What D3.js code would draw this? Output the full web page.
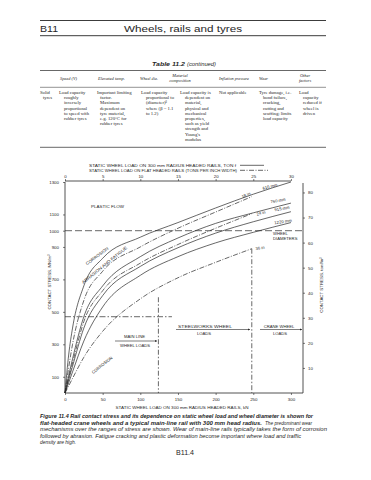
<!DOCTYPE html>
<html><head><meta charset="utf-8">
<script src="https://cdn.jsdelivr.net/npm/d3@7"></script>
<style>body{margin:0;background:#fff}svg{display:block}</style>
</head><body>
<svg id="c" width="371" height="480"></svg>
<script>
// ---------- data ----------
const loadKN = [0, 5, 10, 25, 50, 100, 150, 200, 250, 300];
const s610  = [0, 240, 400, 660, 830, 960, 1050, 1140, 1225, 1300];
const s760  = [0, 110, 210, 470, 660, 840, 955, 1045, 1110, 1170];
const s915  = [0, 85, 165, 400, 600, 780, 895, 985, 1055, 1117];
const s1220 = [0, 65, 130, 320, 530, 725, 840, 925, 990, 1050];
const flatLoad = [0, 5, 10, 25, 50, 100, 150, 200, 248];
const f18 = [0, 160, 300, 570, 750, 900, 1015, 1115, 1210];
const f24 = [0, 95, 185, 440, 630, 800, 915, 1015, 1105];
const f36 = [0, 45, 90, 220, 380, 580, 710, 805, 889];
const solidLabels = ["610 mm", "760 mm", "915 mm", "1220 mm"];
const flatLabels = ["18 in", "24 in", "36 in"];
const leftTicks = [1300, 1100, 1000, 900, 700, 500, 300, 100];
const rightTicks = [80, 70, 60, 50, 40, 30, 20, 10];
const bottomTicks = [0, 50, 100, 150, 200, 250, 300];
const topTicks = [0, 5, 10, 15, 20, 25, 30];
const plasticLimit = 1000;      // MN/m2
const mainLineStress = 470;     // MN/m2
const mainLineLoad = 124;       // kN
const mainLineTop = 590;
const steelworksLoad = 248;     // kN

// ---------- setup ----------
const svg = d3.select("#c");
const ink = "#262626";
const sans = "'Liberation Sans', Arial, sans-serif";
const serif = "'Liberation Serif', 'Times New Roman', serif";

function txt(g, s, xx, yy, o = {}) {
  const t = g.append("text").attr("x", xx).attr("y", yy).text(s)
    .attr("font-family", o.family || sans).attr("font-size", o.size || 4.6)
    .attr("fill", ink).attr("dominant-baseline", "central")
    .attr("text-anchor", o.anchor || "start");
  if (o.weight) t.attr("font-weight", o.weight);
  if (o.style) t.attr("font-style", o.style);
  if (o.len) t.attr("textLength", o.len).attr("lengthAdjust", "spacingAndGlyphs");
  if (o.rot !== undefined) t.attr("transform", `rotate(${o.rot},${xx},${yy})`);
  return t;
}
function hline(x1, x2, yy, w = 0.8, dash = null) {
  const l = svg.append("line").attr("x1", x1).attr("x2", x2).attr("y1", yy).attr("y2", yy)
    .attr("stroke", ink).attr("stroke-width", w);
  if (dash) l.attr("stroke-dasharray", dash);
  return l;
}

// ---------- page header ----------
hline(40, 326, 20.5, 0.9);
hline(40, 326, 35.7, 0.9);
txt(svg, "B11", 40, 29, {size: 8.6, len: 18});
txt(svg, "Wheels, rails and tyres", 124, 29, {size: 8.6, len: 118});

// ---------- table ----------
txt(svg, "Table 11.2", 152, 63.5, {size: 5.6, weight: "bold", style: "italic", len: 33});
txt(svg, "(continued)", 187, 63.5, {size: 5.6, style: "italic", len: 29});
hline(40, 326, 70.5, 0.7);
hline(40, 326, 87.3, 0.5);
hline(40, 326, 147.3, 0.7);
const hd = {family: serif, size: 4.4, style: "italic"};
txt(svg, "Speed (V)", 60, 78, {...hd, len: 17});
txt(svg, "Elevated temp.", 98, 78, {...hd, len: 27});
txt(svg, "Wheel dia.", 140, 78, {...hd, len: 18});
txt(svg, "Material", 180, 75, {...hd, anchor: "middle"});
txt(svg, "composition", 180, 80.5, {...hd, anchor: "middle"});
txt(svg, "Inflation pressure", 219, 78, {...hd, len: 30});
txt(svg, "Wear", 259, 78, {...hd, len: 9});
txt(svg, "Other", 305, 75, {...hd, anchor: "middle"});
txt(svg, "factors", 305, 80.5, {...hd, anchor: "middle"});
const body = {family: serif, size: 4.7};
function column(lines, x0, ind) {
  lines.forEach((s, i) => txt(svg, s, i === 0 ? x0 : x0 + ind, 92.5 + i * 5.2, body));
}
column(["Solid", "tyres"], 40, 3);
column(["Load capacity", "roughly", "inversely", "proportional", "to speed with", "rubber tyres"], 59, 5);
column(["Important limiting", "factor.", "Maximum", "dependent on", "tyre material,", "e.g. 120°C for", "rubber tyres"], 97, 3);
column(["Load capacity", "proportional to", "(diameter)\u1D5D", "where (\u03B2 = 1.1", "to 1.2)"], 141, 5);
column(["Load capacity is", "dependent on", "material,", "physical and", "mechanical", "properties,", "such as yield", "strength and", "Young's", "modulus"], 180, 5);
column(["Not applicable"], 219, 0);
column(["Tyre damage, i.e.", "bond failure,", "cracking,", "cutting and", "scuffing; limits", "load capacity"], 259, 4);
column(["Load", "capacity", "reduced if", "wheel is", "driven"], 299, 4);

// ---------- scales ----------
const x = d3.scaleLinear().domain([0, 316]).range([65, 303]);
const y = d3.scaleLinear().domain([0, 1300]).range([393, 182]);
const yR = d3.scaleLinear().domain([0, 1300 / 15.444]).range([393, 182]);
const xT = d3.scaleLinear().domain([0, 31.6]).range([65, 303]);

// ---------- legend ----------
const lg = {size: 4.3};
txt(svg, "STATIC WHEEL LOAD ON 300 mm RADIUS HEADED RAILS, TON f", 89, 165.3, {...lg, len: 147});
txt(svg, "STATIC WHEEL LOAD ON FLAT HEADED RAILS (TONS PER INCH WIDTH)", 89, 170.3, {...lg, len: 148});
hline(240, 264, 165.3, 0.7);
hline(240, 268, 170.3, 0.7, "5,1.5,1,1.5");

// ---------- axes ----------
const fmt = d3.format("d");
function styleAxis(g) {
  g.select(".domain").remove();
  g.selectAll("line").attr("stroke", ink).attr("stroke-width", 0.6);
  g.selectAll("text").attr("font-family", sans).attr("font-size", 4.4).attr("fill", ink);
}
svg.append("g").attr("transform", "translate(0,393)")
  .call(d3.axisBottom(x).tickValues(bottomTicks).tickFormat(fmt).tickSize(2).tickPadding(3)).call(styleAxis);
svg.append("g").attr("transform", "translate(0,181)")
  .call(d3.axisTop(xT).tickValues(topTicks).tickFormat(fmt).tickSize(2).tickPadding(1.5)).call(styleAxis);
svg.append("g").attr("transform", "translate(65,0)")
  .call(d3.axisLeft(y).tickValues(leftTicks).tickFormat(fmt).tickSize(2).tickPadding(4)).call(styleAxis);
svg.append("g").attr("transform", "translate(303,0)")
  .call(d3.axisRight(yR).tickValues(rightTicks).tickFormat(fmt).tickSize(2).tickPadding(3)).call(styleAxis);
svg.append("line").attr("x1", 65).attr("x2", 303).attr("y1", 393).attr("y2", 393).attr("stroke", ink).attr("stroke-width", 0.8);
svg.append("line").attr("x1", 65).attr("x2", xT(30)).attr("y1", 181).attr("y2", 181).attr("stroke", ink).attr("stroke-width", 0.8);
svg.append("line").attr("x1", 65).attr("x2", 65).attr("y1", 182).attr("y2", 393).attr("stroke", ink).attr("stroke-width", 0.8);
svg.append("line").attr("x1", 303).attr("x2", 303).attr("y1", 183).attr("y2", 393).attr("stroke", ink).attr("stroke-width", 0.8);

txt(svg, "CONTACT STRESS, MN/m\u00B2", 49, 282, {size: 4.4, anchor: "middle", rot: -90});
txt(svg, "CONTACT STRESS, tonf/in\u00B2", 321, 285, {size: 4.4, anchor: "middle", rot: -90});
txt(svg, "STATIC WHEEL LOAD ON 300 mm RADIUS HEADED RAILS, kN", 182, 407, {size: 4.4, anchor: "middle", len: 133});

// ---------- reference lines ----------
hline(65, 303, y(plasticLimit), 0.7, "7,3");
hline(65, x(142), y(mainLineStress), 0.7, "6,2,1.5,2");
svg.append("line").attr("x1", x(mainLineLoad)).attr("x2", x(mainLineLoad))
  .attr("y1", y(mainLineTop)).attr("y2", 393).attr("stroke", ink).attr("stroke-width", 0.7).attr("stroke-dasharray", "5,2,1.5,2");
svg.append("line").attr("x1", x(steelworksLoad)).attr("x2", x(steelworksLoad))
  .attr("y1", y(f36[f36.length - 1])).attr("y2", 393).attr("stroke", ink).attr("stroke-width", 0.7).attr("stroke-dasharray", "5,2,1.5,2");

// ---------- curves ----------
const line = d3.line().x(d => x(d[0])).y(d => y(d[1])).curve(d3.curveMonotoneX);
[s610, s760, s915, s1220].forEach(s => {
  svg.append("path").attr("d", line(loadKN.map((v, i) => [v, s[i]])))
    .attr("fill", "none").attr("stroke", ink).attr("stroke-width", 0.7);
});
[f18, f24, f36].forEach(s => {
  svg.append("path").attr("d", line(flatLoad.map((v, i) => [v, s[i]])))
    .attr("fill", "none").attr("stroke", ink).attr("stroke-width", 0.7).attr("stroke-dasharray", "5,1.5,1,1.5");
});

// ---------- labels in plot ----------
const sm = {size: 4.2};
txt(svg, solidLabels[0], 270, 186.5, {...sm, anchor: "middle", rot: -15});
txt(svg, solidLabels[1], 278, 200.5, {...sm, anchor: "middle", rot: -10});
txt(svg, solidLabels[2], 282, 208.5, {...sm, anchor: "middle", rot: -10});
txt(svg, solidLabels[3], 283, 221.5, {...sm, anchor: "middle", rot: -8});
txt(svg, flatLabels[0], 246, 195, {...sm, anchor: "middle", rot: -25});
txt(svg, flatLabels[1], 261, 213, {...sm, anchor: "middle", rot: -15});
txt(svg, flatLabels[2], 260, 248, {...sm, anchor: "middle", rot: -10});
txt(svg, "WHEEL", 273, 233, sm);
txt(svg, "DIAMETERS", 273, 238, sm);
txt(svg, "PLASTIC FLOW", 91, 206, {...sm, len: 33});
txt(svg, "CORROSION", 97, 256, {...sm, anchor: "middle", rot: -37, len: 27});
txt(svg, "ABRASION AND FATIGUE", 104.5, 265, {...sm, anchor: "middle", rot: -39, len: 57});
txt(svg, "CORROSION", 102, 365, {...sm, anchor: "middle", rot: -39, len: 25});
txt(svg, "MAIN LINE", 134.5, 336, {...sm, anchor: "middle"});
txt(svg, "WHEEL LOADS", 135, 345.5, {...sm, anchor: "middle"});
txt(svg, "STEELWORKS WHEEL", 205, 326, {...sm, anchor: "middle", len: 54});
txt(svg, "LOADS", 204, 333.5, {...sm, anchor: "middle"});
txt(svg, "CRANE WHEEL", 279, 326, {...sm, anchor: "middle"});
txt(svg, "LOADS", 280, 333.5, {...sm, anchor: "middle"});
// arrows
svg.append("defs").append("marker").attr("id", "ah").attr("viewBox", "0 0 6 6")
  .attr("refX", 6).attr("refY", 3).attr("markerWidth", 4).attr("markerHeight", 4).attr("orient", "auto")
  .append("path").attr("d", "M0,0 L6,3 L0,6 Z").attr("fill", ink);
[[115, 157, 341], [176, 250, 329.5], [260, 302, 329.5]].forEach(a => {
  svg.append("line").attr("x1", a[0]).attr("x2", a[1]).attr("y1", a[2]).attr("y2", a[2])
    .attr("stroke", ink).attr("stroke-width", 0.6).attr("marker-end", "url(#ah)");
});

// ---------- caption ----------
const cap = {size: 5.5, style: "italic"};
txt(svg, "Figure 11.4  Rail contact stress and its dependence on static wheel load and wheel diameter is shown for", 40, 416, {...cap, weight: "bold", len: 273});
txt(svg, "flat-headed crane wheels and a typical main-line rail with 300 mm head radius.", 40, 422.5, {...cap, weight: "bold", len: 222});
txt(svg, "The predominant wear", 265, 422.5, {...cap, len: 47});
txt(svg, "mechanisms over the ranges of stress are shown. Wear of main-line rails typically takes the form of corrosion", 40, 429, {...cap, len: 287});
txt(svg, "followed by abrasion. Fatigue cracking and plastic deformation become important where load and traffic", 40, 435.5, {...cap, len: 261});
txt(svg, "density are high.", 40, 442, {...cap, len: 36});
txt(svg, "B11.4", 185, 452, {size: 6.4, anchor: "middle", len: 18});
</script>
</body></html>
